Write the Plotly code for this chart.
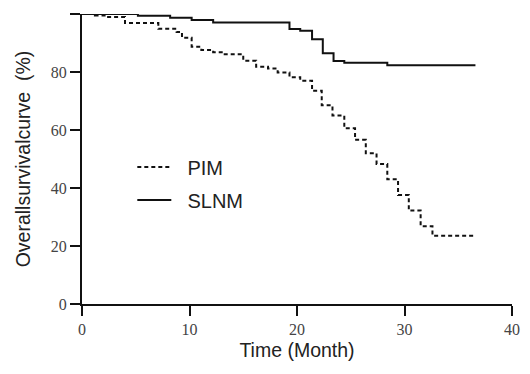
import plotly.graph_objects as go

# Kaplan-Meier style step data (months, % surviving)
pim_time = [0, 1.2, 2.1, 4.0, 7.1, 8.8, 9.3, 10.2, 11.1, 12.2, 13.1, 15.0, 16.2, 17.3, 18.2,
            19.3, 20.3, 21.4, 22.3, 23.3, 24.4, 25.4, 26.4, 27.4, 28.4, 29.4, 30.4, 31.5, 32.6, 36.6]
pim_surv = [100, 99.5, 99.0, 96.9, 94.9, 93.8, 91.8, 88.7, 87.6, 86.8, 86.1, 83.9, 81.8, 81.2, 79.8,
            78.2, 77.0, 73.5, 68.5, 65.0, 60.6, 56.6, 52.0, 48.3, 43.0, 37.6, 32.2, 26.8, 23.5, 23.5]

slnm_time = [0, 5.2, 8.2, 10.2, 12.2, 19.3, 20.3, 21.4, 22.4, 23.4, 24.4, 28.4, 36.6]
slnm_surv = [100, 99.4, 98.7, 97.9, 97.1, 94.8, 94.2, 91.3, 86.5, 83.8, 83.2, 82.3, 82.3]

series_names = ["\u00a0\u00a0PIM", "\u00a0\u00a0SLNM"]
x_ticks = [0, 10, 20, 30, 40]
y_ticks = [0, 20, 40, 60, 80, 100]

fig = go.Figure()
fig.add_trace(go.Scatter(x=pim_time, y=pim_surv, mode="lines", name=series_names[0],
                         line=dict(shape="hv", color="#111", width=2, dash="4px,3px"),
                         legendgroup="a"))
fig.add_trace(go.Scatter(x=slnm_time, y=slnm_surv, mode="lines", name=series_names[1],
                         line=dict(shape="hv", color="#111", width=2),
                         legendgroup="b"))

tickfont = dict(family="Liberation Serif", size=16, color="#444")
titlefont = dict(family="Liberation Sans", size=19.5, color="#222")

fig.update_layout(
    width=522, height=366,
    margin=dict(l=74, r=18, t=6, b=70),
    plot_bgcolor="white", paper_bgcolor="white",
    showlegend=True,
    legend=dict(x=0.117, y=0.54, xanchor="left", yanchor="top",
                font=dict(family="Liberation Sans", size=20, color="#222"),
                traceorder="grouped", tracegroupgap=4, itemwidth=34,
                bgcolor="rgba(0,0,0,0)"),
    xaxis=dict(range=[0, 40], tickvals=x_ticks, ticks="outside", ticklen=10, tickwidth=2,
               tickcolor="#111", showline=True, linecolor="#111", linewidth=2,
               showgrid=False, zeroline=False, tickfont=tickfont, automargin=False,
               title=dict(text="Time (Month)", font=titlefont, standoff=6)),
    yaxis=dict(range=[0, 100], tickvals=y_ticks, ticks="outside", ticklen=10, tickwidth=2,
               tickcolor="#111", showline=True, linecolor="#111", linewidth=2,
               showgrid=False, zeroline=False, tickfont=tickfont, automargin=False,
               title=dict(text="Overallsurvivalcurve  (%)", font=titlefont, standoff=15)),
)

fig.write_html("out.html")
